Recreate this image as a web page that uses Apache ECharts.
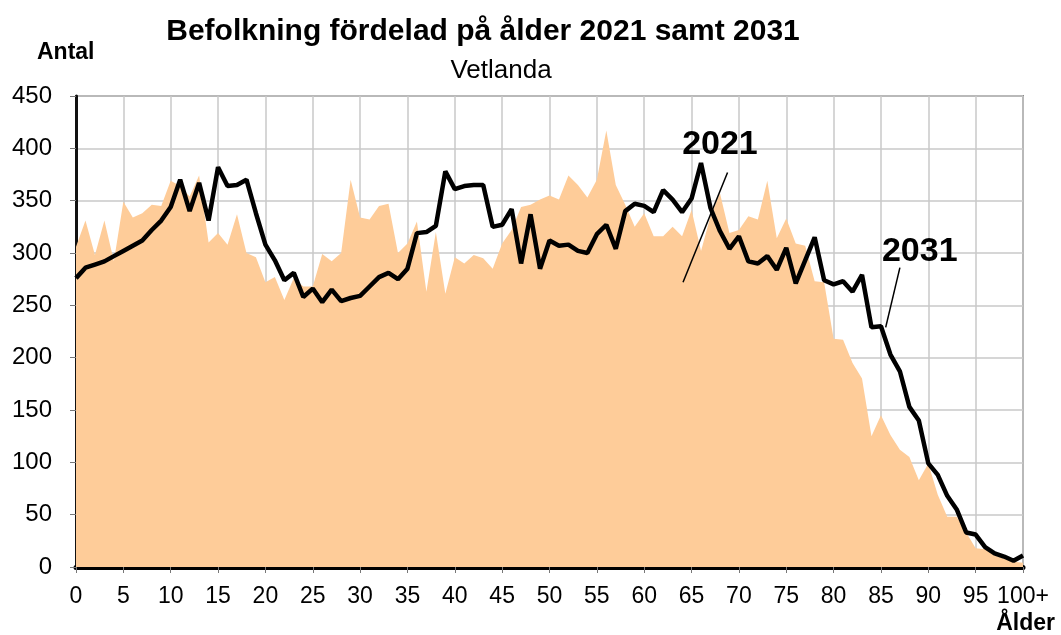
<!DOCTYPE html>
<html>
<head>
<meta charset="utf-8">
<script src="https://cdn.jsdelivr.net/npm/echarts@6/dist/echarts.min.js"></script>
<style>
  html, body { margin: 0; padding: 0; background: #fff; }
  #container { width: 1061px; height: 635px; }
</style>
</head>
<body>
<div id="container"></div>
<script>
// ålder 0..100+
var ages = [];
for (var i = 0; i <= 100; i++) ages.push(i);

// antal 2021 (ytan)
var pop2021 = [306, 331, 298, 331, 292, 349, 334, 338, 346, 345,
               369, 364, 354, 374, 310, 319, 308, 337, 300, 296,
               272, 277, 255, 276, 268, 268, 299, 292, 300, 370,
               334, 332, 345, 347, 300, 309, 330, 263, 320, 261,
               296, 290, 298, 295, 285, 309, 322, 344, 346, 351,
               355, 351, 374, 365, 353, 370, 417, 365, 346, 325,
               338, 316, 316, 325, 316, 341, 302, 335, 357, 319,
               322, 335, 332, 369, 314, 333, 309, 307, 273, 272,
               218, 217, 195, 180, 125, 145, 126, 112, 105, 83,
               99, 69, 48, 48, 33, 18, 17, 11, 8, 5,
               4];

// antal 2031 (linjen)
var pop2031 = [276, 286, 289, 292, 297, 302, 307, 312, 322, 331,
               344, 370, 340, 367, 331, 382, 364, 365, 370, 338,
               308, 293, 274, 281, 258, 266, 253, 265, 254, 257,
               259, 268, 277, 281, 275, 285, 319, 320, 326, 378,
               361, 364, 365, 365, 325, 327, 342, 290, 337, 285,
               312, 307, 308, 302, 300, 318, 327, 304, 340, 347,
               345, 339, 360, 351, 339, 352, 386, 343, 321, 304,
               316, 292, 290, 297, 284, 305, 271, 293, 315, 274,
               270, 273, 263, 279, 229, 230, 203, 187, 153, 140,
               99, 88, 68, 55, 33, 31, 19, 13, 10, 6,
               11];

var d2021 = ages.map(function (a, i) { return [a, pop2021[i]]; });
var d2031 = ages.map(function (a, i) { return [a, pop2031[i]]; });

var myChart = echarts.init(document.getElementById("container"));
var font = "Liberation Sans, Arial, sans-serif";

myChart.setOption({
    animation: false,
    textStyle: { fontFamily: font },
    title: [
        { text: "Befolkning fördelad på ålder 2021 samt 2031", left: 478, top: 12, textAlign: "center",
          textStyle: { fontSize: 30, fontWeight: "bold", color: "#000", fontFamily: font } },
        { text: "Vetlanda", left: 496, top: 53, textAlign: "center",
          textStyle: { fontSize: 26, fontWeight: "normal", color: "#000", fontFamily: font } }
    ],
    graphic: [
        { type: "text", left: 37, top: 41, style: { text: "Antal", font: "bold 23px " + font, fill: "#000" } },
        { type: "text", right: 6, top: 612, style: { text: "Ålder", font: "bold 23px " + font, fill: "#000" } }
    ],
    grid: { left: 76, right: 38, top: 96, bottom: 68, show: true, borderColor: "#8c8c8c", borderWidth: 2, backgroundColor: "#fff" },
    xAxis: {
        type: "value", min: 0, max: 100, interval: 5,
        axisLine: { lineStyle: { color: "#000", width: 5 } },
        axisTick: { show: true, length: 6, lineStyle: { color: "#777" } },
        axisLabel: { fontSize: 23, color: "#000", margin: 18,
                     formatter: function (v) { return v === 100 ? "100+" : v; } },
        splitLine: { show: true, lineStyle: { color: "#c8c8c8", width: 1.5 } }
    },
    yAxis: {
        type: "value", min: 0, max: 450, interval: 50,
        axisLine: { show: true, lineStyle: { color: "#111", width: 3 } },
        axisTick: { show: true, length: 6, lineStyle: { color: "#777" } },
        axisLabel: { fontSize: 24, color: "#000", margin: 24 },
        splitLine: { show: true, lineStyle: { color: "#c8c8c8", width: 1.5 } }
    },
    series: [
        {
            name: "2021", type: "line", data: d2021, symbol: "none",
            lineStyle: { width: 0 },
            areaStyle: { color: "#FECC99", opacity: 1 },
            markPoint: {
                symbol: "circle", symbolSize: 0,
                label: { show: true, position: "inside", fontSize: 34, fontWeight: "bold", color: "#000", fontFamily: font, formatter: "{b}" },
                data: [{ name: "2021", coord: [68.0, 404] }]
            },
            markLine: {
                silent: true, symbol: "none", label: { show: false },
                lineStyle: { color: "#000", width: 1.5, type: "solid" },
                data: [[{ coord: [64.1, 272] }, { coord: [68.8, 377] }]]
            },
            z: 2
        },
        {
            name: "2031", type: "line", data: d2031, symbol: "none",
            lineStyle: { color: "#000", width: 4.5 },
            markPoint: {
                symbol: "circle", symbolSize: 0,
                label: { show: true, position: "inside", fontSize: 34, fontWeight: "bold", color: "#000", fontFamily: font, formatter: "{b}" },
                data: [{ name: "2031", coord: [89.1, 301] }]
            },
            markLine: {
                silent: true, symbol: "none", label: { show: false },
                lineStyle: { color: "#000", width: 1.5, type: "solid" },
                data: [[{ coord: [85.5, 229] }, { coord: [87.0, 286] }]]
            },
            z: 3
        }
    ]
});
</script>
</body>
</html>
